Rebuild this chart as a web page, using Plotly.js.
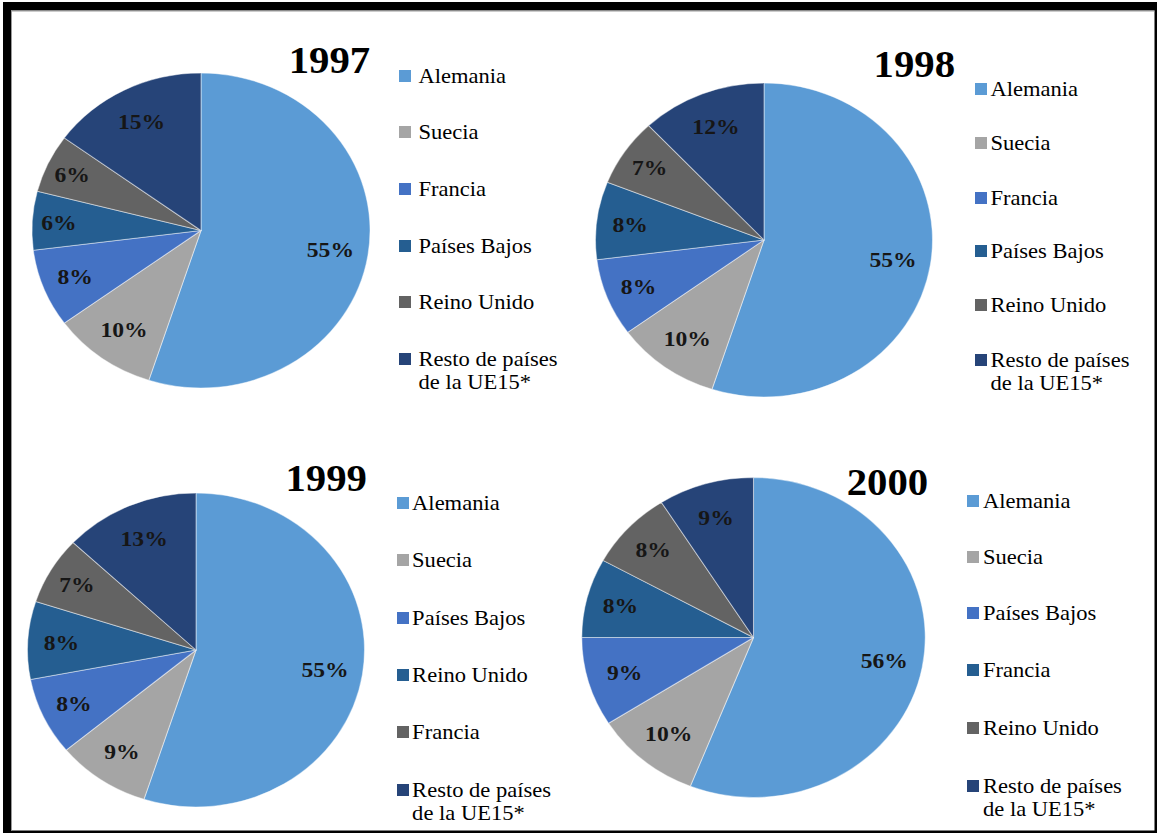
<!DOCTYPE html>
<html>
<head>
<meta charset="utf-8">
<script src="https://cdn.plot.ly/plotly-3.0.1.min.js"></script>
<style>
  html, body { margin: 0; padding: 0; background: #ffffff; overflow: hidden; }
  /* the figure is laid out 1080 px wide and widened to the 1159 px page */
  #chart { width: 1080px; height: 835px; transform: scaleX(1.073148); transform-origin: 0 0; }
</style>
</head>
<body>
<div id="chart"></div>
<script>
// ---- data: share of each destination, in percent ----
const years = ['1997', '1998', '1999', '2000'];

const labels1997 = ['Alemania', 'Suecia', 'Francia', 'Países Bajos', 'Reino Unido', 'Resto de países<br>de la UE15*'];
const values1997 = [55, 10, 8, 6, 6, 15];

const labels1998 = ['Alemania', 'Suecia', 'Francia', 'Países Bajos', 'Reino Unido', 'Resto de países<br>de la UE15*'];
const values1998 = [55, 10, 8, 8, 7, 12];

const labels1999 = ['Alemania', 'Suecia', 'Países Bajos', 'Reino Unido', 'Francia', 'Resto de países<br>de la UE15*'];
const values1999 = [55, 9, 8, 8, 7, 13];

const labels2000 = ['Alemania', 'Suecia', 'Países Bajos', 'Francia', 'Reino Unido', 'Resto de países<br>de la UE15*'];
const values2000 = [56, 10, 9, 8, 8, 9];

// colours follow the slice position, not the country
const sliceColors = ['#5B9BD5', '#A5A5A5', '#4472C4', '#255E91', '#636363', '#264478'];

const series = [
  { labels: labels1997, values: values1997 },
  { labels: labels1998, values: values1998 },
  { labels: labels1999, values: values1999 },
  { labels: labels2000, values: values2000 }
];

// ---- layout helpers (page pixels -> paper fractions) ----
const W = 1080, H = 835, SX = 1159 / W;
const px = x => x / SX / W;
const py = y => 1 - y / H;

// panel placement on the page: pie centre/radius, title centre, legend column and rows
const panels = [
  { cx: 201,   cy: 230.5, r: 157.5, title: [329.5, 60],  sq: 399, tx: 416, rows: [76, 132, 189, 246, 302, 359] },
  { cx: 764,   cy: 240,   r: 157,   title: [914.5, 64],  sq: 975, tx: 988, rows: [89, 143, 198, 251, 305, 360] },
  { cx: 196,   cy: 650,   r: 157,   title: [326, 478],   sq: 397, tx: 410, rows: [503, 560, 618, 675, 732, 790] },
  { cx: 753.5, cy: 637.5, r: 160,   title: [888, 482],   sq: 967, tx: 981, rows: [501, 557, 613, 670, 728, 786] }
];

const serif = 'Liberation Serif';
const traces = [];
const annotations = [];
const shapes = [];

panels.forEach((p, k) => {
  const s = series[k];
  const domain = {
    x: [px(p.cx) - p.r / W, px(p.cx) + p.r / W],
    y: [py(p.cy) - p.r / H, py(p.cy) + p.r / H]
  };

  // coloured slices
  traces.push({
    type: 'pie', labels: s.labels, values: s.values, domain: domain,
    sort: false, direction: 'clockwise', rotation: 0,
    marker: { colors: sliceColors, line: { color: 'rgba(255,255,255,0.45)', width: 1 } },
    textinfo: 'none', hoverinfo: 'label+percent', showlegend: false
  });

  // percentage labels, set on a ring so they sit towards the rim
  traces.push({
    type: 'pie', labels: s.labels, values: s.values, domain: domain,
    sort: false, direction: 'clockwise', rotation: 0, hole: 0.55,
    marker: { colors: s.values.map(() => 'rgba(0,0,0,0)'), line: { width: 0 } },
    texttemplate: '%{value}%', textposition: 'inside', insidetextorientation: 'horizontal',
    textfont: { family: serif, size: 22, color: '#161616', weight: 700 },
    hoverinfo: 'skip', showlegend: false
  });

  // year title
  annotations.push({
    xref: 'paper', yref: 'paper', x: px(p.title[0]), y: py(p.title[1]),
    xanchor: 'center', yanchor: 'middle', showarrow: false,
    text: years[k], font: { family: serif, size: 38, color: '#000000', weight: 700 }
  });

  // legend: colour square + country name
  s.labels.forEach((lab, i) => {
    const row = p.rows[i];
    shapes.push({
      type: 'rect', xref: 'paper', yref: 'paper',
      x0: px(p.sq), x1: px(p.sq + 12), y0: py(row + 6), y1: py(row - 6),
      fillcolor: sliceColors[i], line: { width: 0 }
    });
    lab.split('<br>').forEach((line, j) => {
      annotations.push({
        xref: 'paper', yref: 'paper', x: px(p.tx), y: py(row + j * 23),
        xanchor: 'left', yanchor: 'middle', showarrow: false,
        text: line, font: { family: serif, size: 21, color: '#000000' }
      });
    });
  });
});

// outer frame: heavy top/left edges, thin right/bottom edges
const frame = [
  [3, 2, 1157, 10.5, '#000000'],
  [3, 2, 11, 833, '#000000'],
  [1154.5, 2, 1157, 833, '#000000'],
  [3, 830.5, 1157, 833, '#000000'],
  [11, 10.5, 1154.5, 11.5, '#9a9a9a'],
  [11, 10.5, 12, 830.5, '#9a9a9a']
];
frame.forEach(f => shapes.push({
  type: 'rect', xref: 'paper', yref: 'paper', layer: 'above',
  x0: px(f[0]), x1: px(f[2]), y0: py(f[3]), y1: py(f[1]),
  fillcolor: f[4], line: { width: 0 }
}));

const layout = {
  width: W, height: H,
  margin: { l: 0, r: 0, t: 0, b: 0 },
  paper_bgcolor: '#ffffff',
  showlegend: false,
  font: { family: serif, color: '#000000' },
  annotations: annotations,
  shapes: shapes
};

Plotly.newPlot('chart', traces, layout, { displayModeBar: false, staticPlot: true });
</script>
</body>
</html>
